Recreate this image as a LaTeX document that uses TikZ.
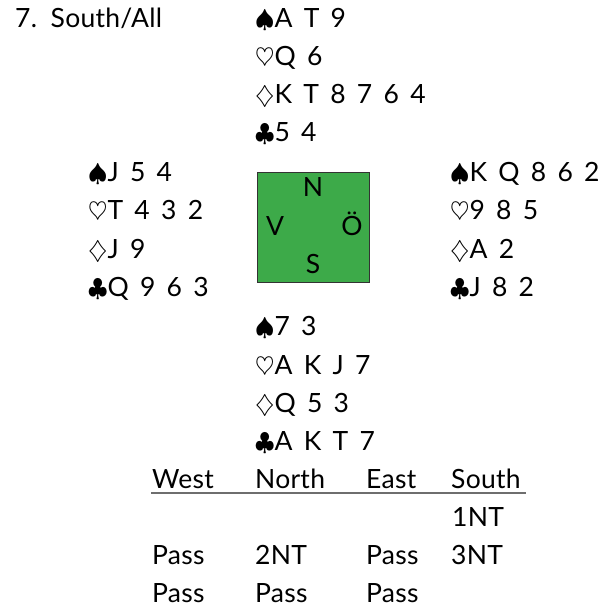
\documentclass[tikz,border=0pt]{standalone}
\usepackage{fontspec}
\setmainfont{Lato}[LetterSpace=1,WordSpace=1.6]
\definecolor{tablegreen}{RGB}{61,170,73}
\definecolor{rulegray}{RGB}{110,110,110}
\newcommand{\Sp}{$\spadesuit$}
\newcommand{\Ht}{$\heartsuit$}
\newcommand{\Dm}{$\diamondsuit$}
\newcommand{\Cl}{$\clubsuit$}
\begin{document}
\begin{tikzpicture}[x=1pt,y=-1pt,
  txt/.style={anchor=base west,inner sep=0pt,font=\fontsize{26.5}{30}\selectfont},
  ctr/.style={anchor=base,inner sep=0pt,font=\fontsize{26.5}{30}\selectfont},
  table/.style={draw=black!80,line width=0.8pt,fill=tablegreen,minimum width=112pt,minimum height=110pt,inner sep=0pt}]
\useasboundingbox (0,0) rectangle (610,609);
% title
\node[txt] (title) at (15,28) {7. South/All};
% North
\node[txt] (n1) at (255,28) {\Sp A T 9};
\node[txt] (n2) at (255,66) {\Ht Q 6};
\node[txt] (n3) at (255,104) {\Dm K T 8 7 6 4};
\node[txt] (n4) at (255,142) {\Cl 5 4};
% West
\node[txt] (w1) at (88,182) {\Sp J 5 4};
\node[txt] (w2) at (88,220) {\Ht T 4 3 2};
\node[txt] (w3) at (88,259) {\Dm J 9};
\node[txt] (w4) at (88,297) {\Cl Q 9 6 3};
% East
\node[txt] (e1) at (450,182) {\Sp K Q 8 6 2};
\node[txt] (e2) at (450,220) {\Ht 9 8 5};
\node[txt] (e3) at (450,259) {\Dm A 2};
\node[txt] (e4) at (450,297) {\Cl J 8 2};
% table
\node[table] (tbl) at (313,227) {};
\node[ctr] (tN) at (313,197) {N};
\node[ctr] (tV) at (275,236) {V};
\node[ctr] (tO) at (352,236) {Ö};
\node[ctr] (tS) at (313,274) {S};
% South
\node[txt] (s1) at (255,336) {\Sp 7 3};
\node[txt] (s2) at (255,374) {\Ht A K J 7};
\node[txt] (s3) at (255,412) {\Dm Q 5 3};
\node[txt] (s4) at (255,450) {\Cl A K T 7};
% bidding
\node[txt] (hW) at (152,488) {West};
\node[txt] (hN) at (255,488) {North};
\node[txt] (hE) at (366,488) {East};
\node[txt] (hS) at (451,488) {South};
\coordinate (ulA) at (151,493);
\coordinate (ulB) at (526,493);
\draw[rulegray,line width=1.2pt] (ulA) -- (ulB);
\node[txt] (b1S) at (452,526) {1NT};
\node[txt] (b2W) at (152,564) {Pass};
\node[txt] (b2N) at (255,564) {2NT};
\node[txt] (b2E) at (366,564) {Pass};
\node[txt] (b2S) at (451,564) {3NT};
\node[txt] (b3W) at (152,602) {Pass};
\node[txt] (b3N) at (255,602) {Pass};
\node[txt] (b3E) at (366,602) {Pass};
\end{tikzpicture}
\end{document}
